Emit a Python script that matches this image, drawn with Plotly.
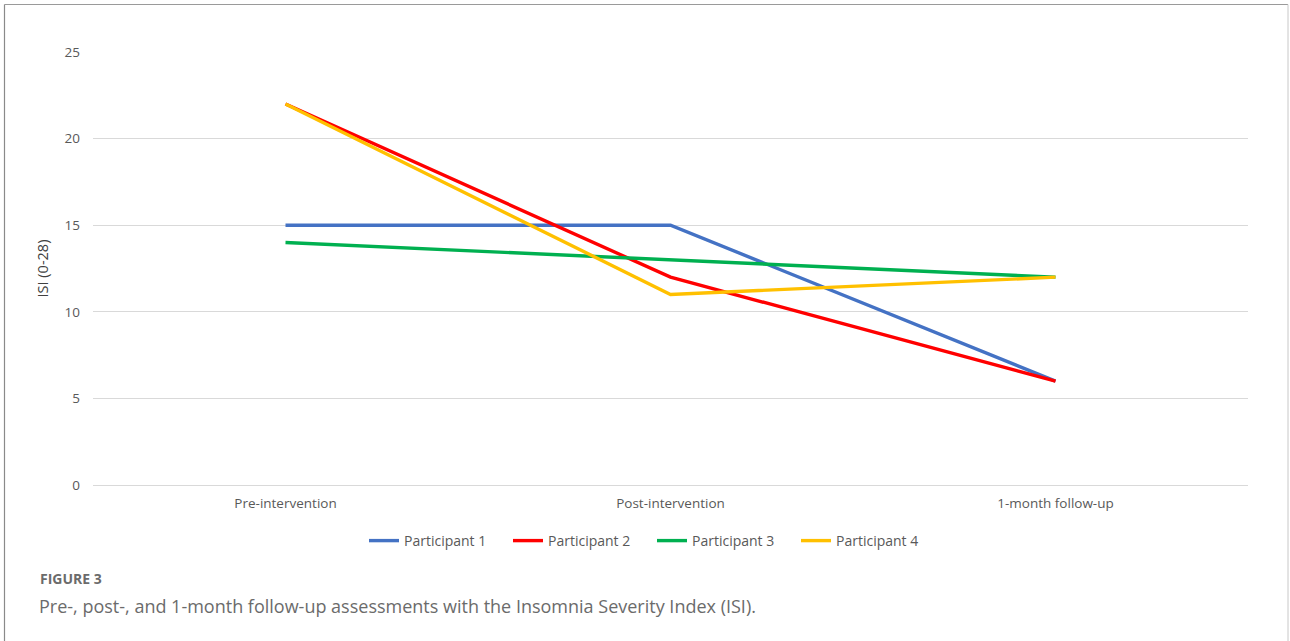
import plotly.graph_objects as go

# Assessment time points and ISI scores per participant
timepoints = ["Pre-intervention", "Post-intervention", "1-month follow-up"]
participants = ["Participant 1", "Participant 2", "Participant 3", "Participant 4"]
p1_scores = [15, 15, 6]
p2_scores = [22, 12, 6]
p3_scores = [14, 13, 12]
p4_scores = [22, 11, 12]
y_ticks = [0, 5, 10, 15, 20, 25]

series = [p1_scores, p2_scores, p3_scores, p4_scores]
colors = ["#4472C4", "#FF0000", "#00B050", "#FFC000"]

W, H = 1290, 641
L, R, T, B = 93, 42, 52, 156
plot_w = W - L - R
plot_h = H - T - B


def px_x(px):
    return (px - L) / plot_w


def px_y(py):
    return (H - B - py) / plot_h


fig = go.Figure()
for name, vals, col in zip(participants, series, colors):
    fig.add_trace(go.Scatter(
        x=timepoints, y=vals, name=name, mode="lines",
        line=dict(color=col, width=3.4),
    ))

axis_font = dict(family="Open Sans, Liberation Sans, sans-serif", size=13.5, color="#595959")

fig.update_layout(
    width=W, height=H,
    margin=dict(l=L, r=R, t=T, b=B),
    paper_bgcolor="white", plot_bgcolor="white",
    showlegend=True,
    legend=dict(
        orientation="h", x=px_x(364), xanchor="left", y=px_y(541), yanchor="middle",
        font=dict(family="Open Sans, sans-serif", size=14, color="#595959"),
        itemwidth=30, tracegroupgap=0, entrywidth=99, entrywidthmode="pixels",
    ),
    xaxis=dict(
        range=[-0.5, 2.5], showgrid=False, zeroline=False, showline=False,
        tickfont=axis_font, ticklabelstandoff=8,
    ),
    yaxis=dict(
        range=[0, 25], tickvals=y_ticks, showgrid=True, gridcolor="#D9D9D9",
        gridwidth=1.2, zeroline=True, zerolinecolor="#D9D9D9", zerolinewidth=1.2,
        showline=False, tickfont=axis_font, ticklabelstandoff=12,
        title=dict(text="ISI (0-28)",
                   font=dict(family="Open Sans, sans-serif", size=14.5, color="#404040"),
                   standoff=12),
    ),
    annotations=[
        dict(text="<b>FIGURE 3</b>", xref="paper", yref="paper", x=px_x(38), y=px_y(578),
             xanchor="left", yanchor="middle", showarrow=False,
             font=dict(family="Open Sans, sans-serif", size=14, color="#6B6B6B")),
        dict(text="Pre-, post-, and 1-month follow-up assessments with the Insomnia Severity Index (ISI).",
             xref="paper", yref="paper", x=px_x(37), y=px_y(606),
             xanchor="left", yanchor="middle", showarrow=False,
             font=dict(family="Open Sans, sans-serif", size=18, color="#6B6B6B")),
    ],
    shapes=[
        dict(type="line", xref="paper", yref="paper", x0=px_x(4.5), x1=px_x(1288),
             y0=px_y(4.5), y1=px_y(4.5), line=dict(color="#9A9A9A", width=1.2)),
        dict(type="line", xref="paper", yref="paper", x0=px_x(4.5), x1=px_x(4.5),
             y0=px_y(4.5), y1=px_y(645), line=dict(color="#8A8A8A", width=1.2)),
        dict(type="line", xref="paper", yref="paper", x0=px_x(1288), x1=px_x(1288),
             y0=px_y(4.5), y1=px_y(645), line=dict(color="#C8C8C8", width=1)),
    ],
)

fig.write_html("out.html")
